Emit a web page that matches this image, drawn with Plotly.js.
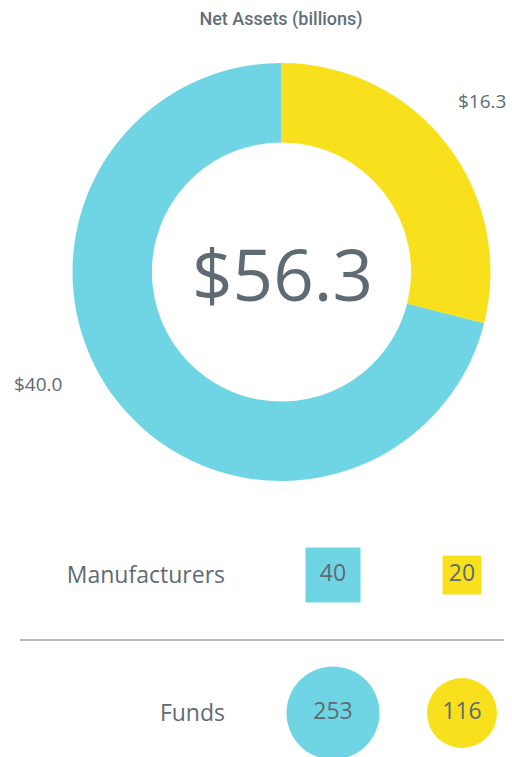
<!DOCTYPE html>
<html>
<head>
<meta charset="utf-8">
<script src="https://cdn.plot.ly/plotly-3.0.1.min.js"></script>
<style>html,body{margin:0;padding:0;background:#fff}#chart{width:512px;height:757px}</style>
</head>
<body>
<div id="chart"></div>
<script>
// ---- data ----
const groups = ['Group A', 'Group B'];
const netAssets = [40.0, 16.3];
const rows = ['Manufacturers', 'Funds'];
const manufacturers = [40, 20];
const funds = [253, 116];
const chartTitle = 'Net Assets (billions)';

// ---- styles ----
const colors = ['#6fd5e4', '#f8e11c'];
const textColor = '#5e6b73';
const FONT = 'Open Sans, sans-serif';
const squareSizes = [55.6, 39.5];
const circleSizes = [93, 70];

const W = 512, H = 757;
const fmt = v => '$' + v.toFixed(1);
const total = netAssets.reduce((a, b) => a + b, 0);

// pie drawn clockwise from 12 o'clock, second group first
const pie = {
  type: 'pie',
  labels: groups.slice().reverse(),
  values: netAssets.slice().reverse(),
  sort: false,
  direction: 'clockwise',
  rotation: 0,
  hole: 0.62,
  marker: {colors: colors.slice().reverse(), line: {width: 0}},
  textinfo: 'none',
  hoverinfo: 'skip',
  showlegend: false,
  domain: {x: [72 / W, 491 / W], y: [1 - 481 / H, 1 - 63 / H]}
};

const mfr = {
  type: 'scatter',
  mode: 'markers+text',
  x: groups,
  y: [rows[0], rows[0]],
  text: manufacturers.map(String),
  textposition: 'middle center',
  textfont: {family: FONT, size: 23, color: textColor, weight: 500},
  marker: {symbol: 'square', size: squareSizes, color: colors, opacity: 1,
           line: {width: 1, color: 'rgba(255,255,255,0.5)'}},
  cliponaxis: false,
  hoverinfo: 'skip',
  showlegend: false
};

const fnd = {
  type: 'scatter',
  mode: 'markers+text',
  x: groups,
  y: [rows[1], rows[1]],
  text: funds.map(String),
  textposition: 'middle center',
  textfont: {family: FONT, size: 23, color: textColor, weight: 500},
  marker: {symbol: 'circle', size: circleSizes, color: colors, opacity: 1, line: {width: 0}},
  cliponaxis: false,
  hoverinfo: 'skip',
  showlegend: false
};

const layout = {
  width: W, height: H,
  margin: {l: 0, r: 0, t: 0, b: 0},
  paper_bgcolor: '#ffffff',
  plot_bgcolor: 'rgba(0,0,0,0)',
  font: {family: FONT, color: textColor},
  title: {
    text: chartTitle,
    font: {family: 'Roboto, sans-serif', size: 18, color: '#626f77', weight: 500},
    x: 281 / W, xanchor: 'center', xref: 'paper',
    y: 1 - 19 / H, yanchor: 'middle', yref: 'paper'
  },
  xaxis: {
    type: 'category',
    categoryarray: groups,
    range: [(240 - 333) / 129, (512 - 333) / 129],
    domain: [240 / W, 1],
    showgrid: false, zeroline: false, showline: false, showticklabels: false, ticks: ''
  },
  yaxis: {
    type: 'category',
    categoryarray: rows,
    range: [(757 - 575) / 138, (530 - 575) / 138],
    domain: [0, (757 - 530) / H],
    showgrid: false, zeroline: false, showline: false, ticks: '',
    ticklabelstandoff: 14,
    tickfont: {family: FONT, size: 23, color: textColor}
  },
  shapes: [{
    type: 'line', xref: 'paper', yref: 'paper',
    x0: 20 / W, x1: 504 / W, y0: 1 - 640 / H, y1: 1 - 640 / H,
    line: {color: '#a0a4a7', width: 1.5}
  }],
  annotations: [
    {text: fmt(total), xref: 'paper', yref: 'paper', x: 282 / W, y: 1 - 273 / H,
     xanchor: 'center', yanchor: 'middle', showarrow: false,
     font: {family: FONT, size: 71, color: textColor}},
    {text: fmt(netAssets[1]), xref: 'paper', yref: 'paper', x: 482 / W, y: 1 - 101.5 / H,
     xanchor: 'center', yanchor: 'middle', showarrow: false,
     font: {family: FONT, size: 19, color: textColor}},
    {text: fmt(netAssets[0]), xref: 'paper', yref: 'paper', x: 37.5 / W, y: 1 - 384 / H,
     xanchor: 'center', yanchor: 'middle', showarrow: false,
     font: {family: FONT, size: 19, color: textColor}}
  ]
};

Plotly.newPlot('chart', [pie, mfr, fnd], layout, {staticPlot: true, displayModeBar: false});
</script>
</body>
</html>
